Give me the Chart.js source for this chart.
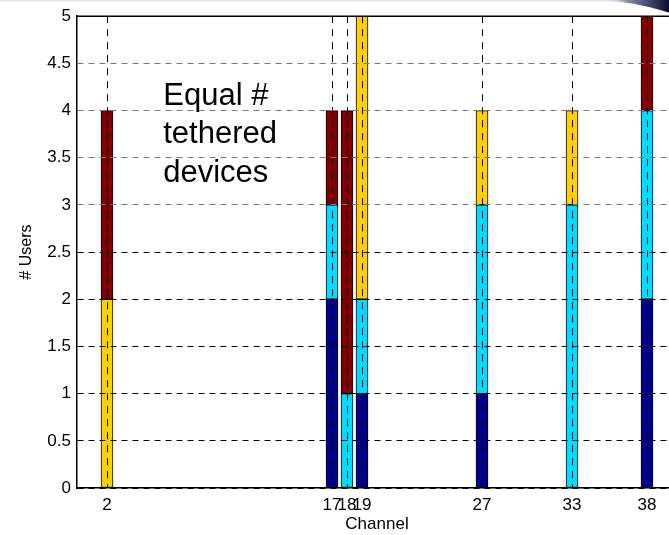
<!DOCTYPE html>
<html>
<head>
<meta charset="utf-8">
<script src="https://cdn.jsdelivr.net/npm/chart.js@4/dist/chart.umd.min.js"></script>
<style>
  html, body { margin: 0; padding: 0; background: #fff; }
  #wrap { width: 669px; height: 535px; overflow: hidden; position: relative; }
  #UsersChart { display: block; }
</style>
</head>
<body>
<div id="wrap"><canvas id="UsersChart" width="700" height="535"></canvas></div>
<script>
// channels that carry users, and users per device type on each channel
var channels = [2, 17, 18, 19, 27, 33, 38];
var navyUsers   = [0, 2, 0, 1, 1, 0, 2];
var cyanUsers   = [0, 1, 1, 1, 2, 3, 2];
var yellowUsers = [2, 0, 0, 3, 1, 1, 0];
var redUsers    = [2, 1, 3, 0, 0, 0, 1];

var yTicks = [0, 0.5, 1, 1.5, 2, 2.5, 3, 3.5, 4, 4.5, 5];
var noteLines = ['Equal #', 'tethered', 'devices'];

var FONT = '"Liberation Sans", Arial, Helvetica, sans-serif';
Chart.defaults.font.family = FONT;
Chart.defaults.color = '#000';

function toPoints(values) {
	return channels.map(function (c, i) { return {x: c, y: values[i] ? values[i] : null}; });
}

function makeSet(label, values, color) {
	return {
		label: label,
		data: toPoints(values),
		backgroundColor: color,
		borderColor: '#000',
		borderWidth: 1,
		borderSkipped: false,
		barThickness: 12
	};
}

// box top edge, the text note and the corner swoosh of the slide
var extrasPlugin = {
	id: 'extras',
	afterDraw: function (chart) {
		var ctx = chart.ctx, a = chart.chartArea;
		var xs = chart.scales.x, ys = chart.scales.y;
		ctx.save();
		ctx.fillStyle = '#e6e6e6';
		ctx.fillRect(0, 0, chart.width, 1.5);

		ctx.strokeStyle = '#000';
		ctx.lineWidth = 1.5;
		ctx.beginPath();
		ctx.moveTo(a.left, a.top);
		ctx.lineTo(a.right, a.top);
		ctx.stroke();

		ctx.fillStyle = '#000';
		ctx.font = '31px ' + FONT;
		ctx.textBaseline = 'alphabetic';
		var nx = xs.getPixelForValue(5.75);
		var ny = ys.getPixelForValue(4.06);
		noteLines.forEach(function (t, i) { ctx.fillText(t, nx, ny + i * 38.5); });

		var g = ctx.createLinearGradient(600, 0, 669, 0);
		g.addColorStop(0, 'rgba(255,255,255,0)');
		g.addColorStop(0.4, '#8888a8');
		g.addColorStop(1, '#0a0a30');
		ctx.fillStyle = g;
		ctx.beginPath();
		ctx.moveTo(596, 0);
		ctx.quadraticCurveTo(645, 1, 700, 24);
		ctx.lineTo(700, 0);
		ctx.closePath();
		ctx.fill();
		ctx.restore();
	}
};

new Chart('UsersChart', {
	type: 'bar',
	data: {
		datasets: [
			makeSet('Type 1', navyUsers, '#00008f'),
			makeSet('Type 2', cyanUsers, '#00dcff'),
			makeSet('Type 3', yellowUsers, '#ffd000'),
			makeSet('Type 4', redUsers, '#800000')
		]
	},
	options: {
		responsive: false,
		animation: false,
		layout: {padding: {top: 15, right: 23, left: 0, bottom: 0}},
		plugins: {legend: {display: false}, tooltip: {enabled: false}},
		scales: {
			x: {
				type: 'linear',
				stacked: true,
				offset: false,
				min: 0,
				max: 40,
				afterBuildTicks: function (scale) {
					scale.ticks = channels.map(function (c) { return {value: c}; });
				},
				afterFit: function (scale) { scale.height = 47; },
				ticks: {
					autoSkip: false,
					maxRotation: 0,
					minRotation: 0,
					padding: 7,
					font: {size: 17},
					callback: function (v) { return String(v); }
				},
				grid: {color: '#000', lineWidth: 1, drawTicks: false, offset: false, z: 1},
				border: {color: '#000', width: 1.5, dash: [7, 6], z: 1},
				title: {display: true, text: 'Channel', font: {size: 17}, padding: {top: 0, bottom: 0}}
			},
			y: {
				stacked: true,
				min: 0,
				max: 5,
				afterBuildTicks: function (scale) {
					scale.ticks = yTicks.map(function (v) { return {value: v}; });
				},
				afterFit: function (scale) { scale.width = 77; },
				ticks: {
					padding: 6,
					font: {size: 17},
					callback: function (v) { return String(v); }
				},
				grid: {
					color: function (c) { return c.tick && c.tick.value >= 3 ? '#7a7a7a' : '#000'; },
					lineWidth: 1,
					drawTicks: false,
					z: 1
				},
				border: {color: '#000', width: 1.5, dash: [6, 5], z: 1},
				title: {display: true, text: '# Users', font: {size: 16}, padding: {top: 17, bottom: 0}}
			}
		}
	},
	plugins: [extrasPlugin]
});
</script>
</body>
</html>
